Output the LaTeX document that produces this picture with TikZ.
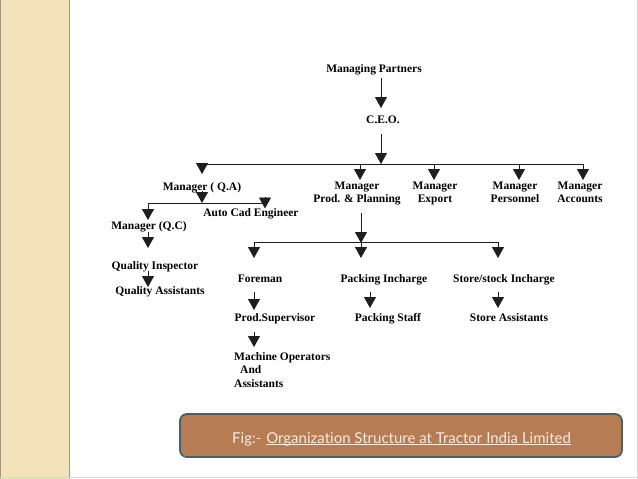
\documentclass[tikz,border=0pt]{standalone}
\usepackage{fontspec}
\setmainfont{Liberation Serif}
\newfontfamily\capfont[Ligatures={NoCommon,NoRare}]{Lato}
\usetikzlibrary{arrows.meta}
\definecolor{panel}{RGB}{243,226,186}
\definecolor{paneledge}{RGB}{165,150,125}
\definecolor{capfill}{RGB}{182,125,84}
\definecolor{capedge}{RGB}{72,98,98}
\definecolor{captext}{RGB}{246,236,222}
\definecolor{ln}{RGB}{30,30,30}
\definecolor{pagegray}{RGB}{215,215,215}
\begin{document}
\begin{tikzpicture}[x=1pt,y=-1pt,
  lbl/.style={font=\fontsize{11.5}{13.5}\selectfont\bfseries, inner sep=0pt, anchor=base, text=black},
  arr/.style={draw=ln, line width=0.8pt, -{Triangle[width=12pt,length=11pt]}},
  bus/.style={draw=ln, line width=0.8pt},
  capstyle/.style={font=\capfont\fontsize{15}{17}\selectfont, text=captext, inner sep=0pt, anchor=base west}]
\useasboundingbox (0,0) rectangle (638,479);
% page background
\fill[white] (0,0) rectangle (638,479);
\fill[panel] (0,0) rectangle (70,479);
\draw[paneledge, line width=1.6pt] (69.5,0) -- (69.5,479);
\draw[paneledge, line width=1pt] (0.5,0) -- (0.5,479);
\draw[pagegray, line width=1pt] (0,477.5) -- (638,477.5);
\draw[pagegray, line width=0.8pt] (637.5,0) -- (637.5,479);

% labels
\node[lbl] (mp) at (374,72) {Managing Partners};
\node[lbl] (ceo) at (383,123) {C.E.O.};
\node[lbl] (mqa) at (202,190) {Manager ( Q.A)};
\node[lbl] (mpp) at (357,189) {\begin{tabular}[t]{@{}c@{}}Manager\\Prod. \& Planning\end{tabular}};
\node[lbl] (mex) at (435,189) {\begin{tabular}[t]{@{}c@{}}Manager\\Export\end{tabular}};
\node[lbl] (mpe) at (515,189) {\begin{tabular}[t]{@{}c@{}}Manager\\Personnel\end{tabular}};
\node[lbl] (mac) at (580,189) {\begin{tabular}[t]{@{}c@{}}Manager\\Accounts\end{tabular}};
\node[lbl] (ace) at (251,216) {Auto Cad Engineer};
\node[lbl] (mqc) at (149,229) {Manager (Q.C)};
\node[lbl] (qi) at (155,269) {Quality Inspector};
\node[lbl] (qas) at (160,294) {Quality Assistants};
\node[lbl] (fm) at (260,282) {Foreman};
\node[lbl] (pi) at (384,282) {Packing Incharge};
\node[lbl] (si) at (504,282) {Store/stock Incharge};
\node[lbl] (ps) at (275,321) {Prod.Supervisor};
\node[lbl] (pst) at (388,321) {Packing Staff};
\node[lbl] (sa) at (509,321) {Store Assistants};
\node[lbl, anchor=base west] (mo) at (234,360) {\begin{tabular}[t]{@{}l@{}}Machine Operators\\\hspace*{6pt}And\\Assistants\end{tabular}};

% junction coordinates
\coordinate (mps) at (381,78);
\coordinate (ceon) at (381,108);
\coordinate (ceos) at (381,134);
\coordinate (b1) at (381,164);
\coordinate (b1l) at (202,164);
\coordinate (b1r) at (583,164);
\coordinate (b2) at (202,203);
\coordinate (b2l) at (148,203);
\coordinate (b2r) at (265,203);
\coordinate (b3) at (361,242);
\coordinate (b3l) at (254,242);
\coordinate (b3r) at (498,242);

% top
\draw[arr] (mps) -- (ceon);
\draw[arr] (ceos) -- (b1);
\draw[bus] (b1l) -- (b1r);
\draw[arr] (202,163) -- (202,174);
\draw[arr] (360,164) -- (360,180);
\draw[arr] (434,164) -- (434,180);
\draw[arr] (519,164) -- (519,180);
\draw[arr] (b1r) -- (583,180);

% Q.A branch
\draw[arr] (202,191) -- (b2);
\draw[bus] (b2l) -- (b2r);
\draw[arr] (b2l) -- (148,220);
\draw[arr] (265,197) -- (265,208.5);
\draw[arr] (148,232) -- (148,248);
\draw[arr] (148,271) -- (148,287);

% production branch
\draw[arr] (361,213) -- (361,243);
\draw[bus] (b3l) -- (b3r);
\draw[arr] (b3l) -- (254,258);
\draw[arr] (b3) -- (361,258);
\draw[arr] (b3r) -- (498,258);
\draw[arr] (254,292) -- (254,310);
\draw[arr] (370,292) -- (370,308);
\draw[arr] (498,292) -- (498,308);
\draw[arr] (254,332) -- (254,347);

% caption
\draw[capedge, fill=capfill, line width=1.8pt, rounded corners=7pt] (180,414) rectangle (622,457);
\node[capstyle] (figl) at (232,443) {Fig:-};
\node[capstyle] (capu) at ([xshift=4.5pt]figl.base east) {Organization Structure at Tractor India Limited};
\draw[captext, line width=0.9pt] ([yshift=-1.8pt]capu.base west) -- ([yshift=-1.8pt]capu.base east);
\end{tikzpicture}
\end{document}
